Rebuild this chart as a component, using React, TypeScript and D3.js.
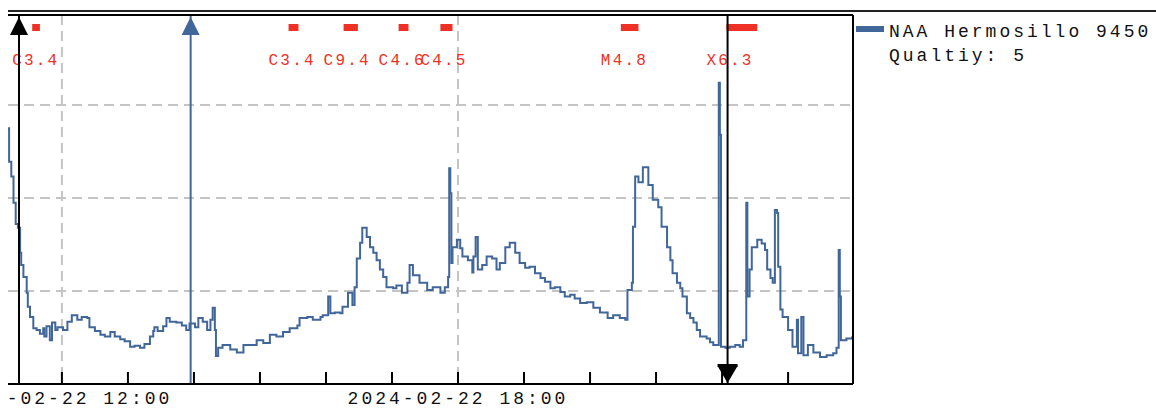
import React from "react";
import * as d3 from "d3";

// neutron monitor trace, NAA Hermosillo, 2024-02-22 (relative units)
const times = [
  "11:11", "11:12", "11:14", "11:16", "11:18", "11:20", "11:22", "11:23", "11:25", "11:28",
  "11:29", "11:31", "11:34", "11:37", "11:40", "11:43", "11:44", "11:46", "11:49", "11:51",
  "11:54", "11:56", "12:01", "12:05", "12:09", "12:14", "12:18", "12:23", "12:25", "12:30",
  "12:35", "12:39", "12:44", "12:48", "12:53", "12:57", "13:02", "13:06", "13:11", "13:15",
  "13:20", "13:23", "13:24", "13:27", "13:32", "13:35", "13:38", "13:44", "13:49", "13:53",
  "13:56", "14:01", "14:04", "14:08", "14:12", "14:15", "14:17", "14:19", "14:20", "14:22",
  "14:26", "14:33", "14:39", "14:45", "14:51", "14:57", "15:03", "15:09", "15:15", "15:21",
  "15:27", "15:34", "15:36", "15:43", "15:48", "15:55", "15:57", "16:02", "16:04", "16:08",
  "16:13", "16:15", "16:20", "16:24", "16:26", "16:28", "16:31", "16:33", "16:37", "16:40",
  "16:43", "16:46", "16:49", "16:52", "16:55", "17:01", "17:04", "17:09", "17:14", "17:16",
  "17:19", "17:25", "17:32", "17:37", "17:44", "17:48", "17:51", "17:52", "17:53", "17:54",
  "17:55", "17:59", "18:02", "18:04", "18:09", "18:13", "18:14", "18:16", "18:18", "18:22",
  "18:26", "18:31", "18:35", "18:38", "18:43", "18:47", "18:52", "18:56", "19:01", "19:05",
  "19:10", "19:15", "19:19", "19:24", "19:28", "19:33", "19:37", "19:42", "19:46", "19:51",
  "19:57", "20:03", "20:09", "20:16", "20:21", "20:27", "20:32", "20:34", "20:38", "20:39",
  "20:41", "20:44", "20:48", "20:53", "20:57", "21:02", "21:05", "21:10", "21:13", "21:15",
  "21:19", "21:22", "21:24", "21:28", "21:31", "21:34", "21:37", "21:40", "21:46", "21:49",
  "21:52", "21:56", "21:57", "21:58", "21:59", "22:03", "22:07", "22:12", "22:16", "22:19",
  "22:22", "22:23", "22:25", "22:27", "22:32", "22:36", "22:39", "22:41", "22:44", "22:46",
  "22:48", "22:50", "22:51", "22:53", "22:55", "23:00", "23:04", "23:08", "23:09", "23:12",
  "23:14", "23:18", "23:23", "23:29", "23:35", "23:41", "23:44", "23:46", "23:47", "23:48",
  "23:53", "23:58",
];
const values = [
  2.75, 2.39, 2.23, 1.95, 1.72, 1.68, 1.41, 1.28, 1.15, 0.98,
  0.83, 0.72, 0.60, 0.58, 0.54, 0.60, 0.51, 0.62, 0.47, 0.66,
  0.58, 0.61, 0.58, 0.67, 0.74, 0.69, 0.72, 0.71, 0.61, 0.57,
  0.53, 0.51, 0.56, 0.51, 0.48, 0.46, 0.40, 0.41, 0.39, 0.43,
  0.51, 0.57, 0.61, 0.57, 0.62, 0.71, 0.67, 0.66, 0.63, 0.58,
  0.65, 0.61, 0.71, 0.67, 0.58, 0.69, 0.82, 0.58, 0.30, 0.39,
  0.42, 0.37, 0.34, 0.42, 0.42, 0.47, 0.44, 0.53, 0.51, 0.56,
  0.60, 0.63, 0.71, 0.72, 0.69, 0.72, 0.74, 0.94, 0.76, 0.77,
  0.76, 0.83, 0.98, 0.85, 1.04, 1.35, 1.52, 1.68, 1.58, 1.47,
  1.41, 1.33, 1.23, 1.15, 1.04, 1.03, 1.06, 0.98, 1.09, 1.28,
  1.17, 1.09, 1.01, 1.04, 0.98, 1.04, 1.15, 2.32, 2.05, 1.30,
  1.47, 1.55, 1.46, 1.37, 1.33, 1.20, 1.37, 1.58, 1.23, 1.28,
  1.37, 1.35, 1.23, 1.30, 1.47, 1.52, 1.41, 1.30, 1.25, 1.26,
  1.19, 1.14, 1.10, 1.03, 1.04, 0.99, 0.94, 0.96, 0.92, 0.87,
  0.88, 0.82, 0.77, 0.71, 0.74, 0.71, 0.69, 1.01, 1.09, 1.69,
  2.23, 2.17, 2.33, 2.14, 1.98, 1.90, 1.69, 1.47, 1.33, 1.19,
  1.09, 1.03, 0.94, 0.76, 0.71, 0.66, 0.58, 0.51, 0.49, 0.45,
  0.42, 0.42, 3.24, 2.68, 0.40, 0.39, 0.40, 0.42, 0.40, 0.47,
  1.95, 0.94, 1.23, 1.47, 1.55, 1.51, 1.44, 1.23, 1.14, 1.09,
  1.87, 1.84, 1.26, 0.80, 0.72, 0.58, 0.40, 0.69, 0.33, 0.72,
  0.31, 0.42, 0.34, 0.29, 0.31, 0.33, 0.39, 1.44, 0.94, 0.47,
  0.49, 0.51,
];

// solar flares (GOES class) shown as red bars on top
const flareStart = ["11:33", "15:26", "16:16", "17:06", "17:44", "20:28", "22:04"];
const flareEnd = ["11:40", "15:35", "16:29", "17:15", "17:55", "20:44", "22:32"];
const flareClass = ["C3.4", "C3.4", "C9.4", "C4.6", "C4.5", "M4.8", "X6.3"];

// event markers
const markerTimes = ["11:21", "13:57", "22:05"];
const markerKinds = ["up-black", "up-blue", "down-black"];

const gridHours = ["12:00", "18:00"];
const dayLabel = "2024-02-22";
const seriesName = "NAA Hermosillo 9450";
const qualityText = "Qualtiy: 5";

const BLUE = "#41669a";
const RED = "#ee3124";
const GRID = "#c4c4c4";
const MONO = "'Liberation Mono', 'DejaVu Sans Mono', monospace";

const parseT = (s: string) => d3.timeParse("%Y-%m-%d %H:%M")(`${dayLabel} ${s}`) as Date;

export default function App() {
  const left = 8, right = 853, top = 15, bottom = 384;

  const x = d3.scaleTime()
    .domain([parseT("11:11"), parseT("23:59")])
    .range([left, right]);
  const y = d3.scaleLinear().domain([0, 4]).range([bottom, 12]);

  const data = times.map((t, i) => ({ t: parseT(t), v: values[i] }));
  // readings are stepped (one value per interval)
  const line = d3.line<{ t: Date; v: number }>()
    .curve(d3.curveStepAfter)
    .x(d => x(d.t))
    .y(d => y(d.v));

  const hourTicks = x.ticks(d3.timeHour.every(1) as d3.TimeInterval);
  const fmt = d3.timeFormat("%Y-%m-%d %H:%M");

  return (
    <svg
      width={1148}
      height={408}
      style={{ position: "absolute", left: 8, top: 0, background: "#fff" }}
    >
      <g transform="translate(-8,0)">
        <defs>
          <clipPath id="plot">
            <rect x={left} y={top} width={right - left} height={bottom - top} />
          </clipPath>
        </defs>

        {/* top rule across whole figure */}
        <line x1={left} x2={1156} y1={11} y2={11} stroke="#222" strokeWidth={2} />

        {/* grid */}
        {[1, 2, 3].map(v => (
          <line key={v} x1={left} x2={right} y1={y(v)} y2={y(v)}
            stroke={GRID} strokeWidth={2} strokeDasharray="10,6" />
        ))}
        {gridHours.map(h => (
          <line key={h} x1={x(parseT(h))} x2={x(parseT(h))} y1={top} y2={bottom}
            stroke={GRID} strokeWidth={2} strokeDasharray="10,6" />
        ))}

        {/* flares */}
        {flareStart.map((s, i) => {
          const x0 = x(parseT(s));
          const x1 = x(parseT(flareEnd[i]));
          return (
            <g key={i}>
              <rect x={x0} y={24} width={x1 - x0} height={7} fill={RED} />
              <text x={x0 - 20} y={65} fill={RED} fontFamily={MONO}
                fontSize={16} letterSpacing={2.2}>{flareClass[i]}</text>
            </g>
          );
        })}

        {/* data */}
        <path d={line(data) || ""} fill="none" stroke={BLUE} strokeWidth={2}
          strokeLinejoin="miter" clipPath="url(#plot)" />

        {/* markers */}
        {markerTimes.map((m, i) => {
          const mx = x(parseT(m));
          const kind = markerKinds[i];
          const col = kind === "up-blue" ? BLUE : "#000";
          return (
            <g key={m}>
              <line x1={mx} x2={mx} y1={top} y2={bottom} stroke={col} strokeWidth={2} />
              {kind.startsWith("up") ? (
                <path d={`M${mx},17 L${mx + 9},35 L${mx - 9},35 Z`} fill={col} />
              ) : (
                <g>
                  <rect x={mx - 10} y={364} width={20} height={3} fill={col} />
                  <path d={`M${mx - 10},366 L${mx + 10},366 L${mx},383 Z`} fill={col} />
                </g>
              )}
            </g>
          );
        })}

        {/* frame */}
        <line x1={left} x2={right} y1={top} y2={top} stroke="#000" strokeWidth={2} />
        <line x1={right} x2={right} y1={top} y2={bottom} stroke="#000" strokeWidth={2} />
        <line x1={left} x2={right} y1={bottom} y2={bottom} stroke="#000" strokeWidth={2} />

        {/* x axis ticks and labels */}
        {hourTicks.map(t => (
          <line key={+t} x1={x(t)} x2={x(t)} y1={bottom - 12} y2={bottom}
            stroke="#000" strokeWidth={2} />
        ))}
        {gridHours.map(h => (
          <text key={h} x={x(parseT(h))} y={404} textAnchor="middle" fontFamily={MONO}
            fontSize={18} letterSpacing={3} fill="#111">{fmt(parseT(h))}</text>
        ))}

        {/* legend */}
        <rect x={856} y={26} width={28} height={6} fill={BLUE} />
        <text x={889} y={37} fontFamily={MONO} fontSize={18} letterSpacing={3}
          fill="#111">{seriesName}</text>
        <text x={889} y={61} fontFamily={MONO} fontSize={18} letterSpacing={3}
          fill="#111">{qualityText}</text>
      </g>
    </svg>
  );
}
